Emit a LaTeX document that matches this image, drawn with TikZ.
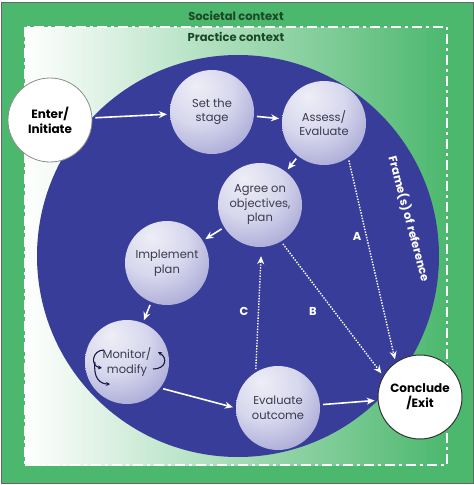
\documentclass[tikz,border=0pt]{standalone}
\usepackage{fontspec}
\setmainfont{Poppins}
\usetikzlibrary{arrows.meta}
\definecolor{fieldgreen}{RGB}{76,184,110}
\definecolor{deepgreen}{RGB}{28,72,40}
\definecolor{roundblue}{RGB}{57,61,154}
\definecolor{orbhi}{RGB}{238,238,247}
\definecolor{orbmid}{RGB}{188,188,226}
\definecolor{orblo}{RGB}{124,125,190}
\definecolor{orbtext}{RGB}{58,58,78}
\definecolor{curlblue}{RGB}{24,26,70}
\pgfdeclareradialshading{orb}{\pgfpoint{-10bp}{16bp}}{color(0bp)=(orbhi); color(20bp)=(orbhi!55!orbmid); color(45bp)=(orbmid!45!orblo); color(62bp)=(orblo); color(100bp)=(orblo)}
\tikzset{
  orbnode/.style={circle, minimum size=84pt, inner sep=0pt, shade, shading=orb, align=center, text=orbtext, font=\fontsize{11.5}{14.5}\selectfont},
  endnode/.style={circle, minimum size=84pt, inner sep=0pt, fill=white, align=center, font=\bfseries\fontsize{12}{15}\selectfont},
  flow/.style={white, line width=1.6pt, -{Stealth[length=8pt,width=7pt]}, shorten <=3pt, shorten >=3pt},
  link/.style={flow, line width=1.4pt, dash pattern=on 1.4pt off 1.4pt},
  curl/.style={curlblue, line width=1.1pt, -{Stealth[length=4pt,width=4pt]}},
  pathlabel/.style={text=white, font=\bfseries\fontsize{11.5}{14}\selectfont},
  contextlabel/.style={text=deepgreen, font=\bfseries\fontsize{11.5}{14}\selectfont}
}
\begin{document}
\begin{tikzpicture}[x=1pt,y=-1pt]
  \useasboundingbox (0,0) rectangle (474,485);
  \draw[fill=fieldgreen, draw=black!60, line width=1pt] (1,2) rectangle (473,483);
  \shade[left color=white, right color=fieldgreen] (25,27) rectangle (447,465);
  \draw[white, line width=2.5pt, dash pattern=on 10pt off 4pt on 3pt off 4pt] (25,27) rectangle (447,465);
  \node[contextlabel] (societal) at (236,16) {Societal context};
  \node[contextlabel] (practice) at (236,37) {Practice context};
  \fill[roundblue] (238,256) circle (201);
  \node[pathlabel, rotate=-75] (frames) at (409,219) {Frame(s) of reference};

  \node[endnode, draw=black!45, line width=0.8pt] (enter) at (50,120) {Enter/\\Initiate};
  \node[orbnode] (stage) at (212,112) {Set the\\stage};
  \node[orbnode] (assess) at (324,123) {Assess/\\Evaluate};
  \node[orbnode] (agree) at (260,205) {Agree on\\objectives,\\plan};
  \node[orbnode] (implement) at (167,263) {Implement\\plan};
  \node[orbnode] (monitor) at (127,362) {Monitor/\\modify};
  \node[orbnode] (evaluate) at (278,408) {Evaluate\\outcome};
  \node[endnode, draw=black!80, line width=1pt] (conclude) at (420,397) {Conclude\\/Exit};

  \draw[flow] (enter) -- (stage);
  \draw[flow] (stage) -- (assess);
  \draw[flow] (assess) -- (agree);
  \draw[flow] (agree) -- (implement);
  \draw[flow] (implement) -- (monitor);
  \draw[flow] (monitor.-38) -- (evaluate.180);
  \draw[flow] (evaluate) -- (conclude);
  \draw[link] (assess.-55) -- (conclude.125);
  \draw[link] (agree.-60) -- (conclude.150);
  \draw[link, shorten >=9pt] (evaluate.122) -- (agree.-88);
  \node[pathlabel] (labela) at (357,236) {A};
  \node[pathlabel] (labelb) at (313,311) {B};
  \node[pathlabel] (labelc) at (244,311) {C};

  \draw[curl] (104,350) .. controls (92,350) and (90,366) .. (102,368);
  \draw[curl] (95,362) .. controls (93,378) and (100,384) .. (110,384);
  \draw[curl] (153,369) .. controls (166,369) and (168,358) .. (158,352);
\end{tikzpicture}
\end{document}
